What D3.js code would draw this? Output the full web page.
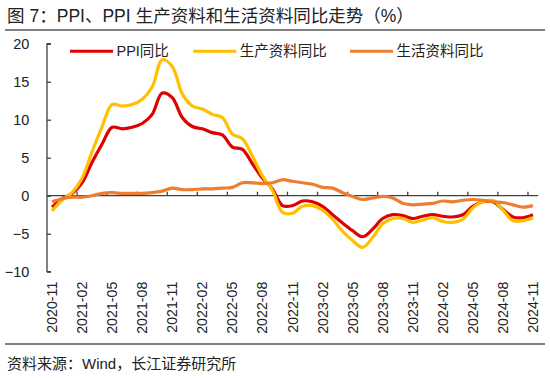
<!DOCTYPE html>
<html><head><meta charset="utf-8">
<script src="https://cdn.jsdelivr.net/npm/d3@7"></script>
<style>
html,body{margin:0;padding:0;background:#fff;}
svg{display:block;font-family:"Liberation Sans",Arial,"Noto Sans CJK SC",sans-serif;}
</style></head>
<body><svg id="c" width="550" height="378"></svg>
<script>
const months = ["2020-11","2020-12","2021-01","2021-02","2021-03","2021-04","2021-05","2021-06","2021-07","2021-08","2021-09","2021-10","2021-11","2021-12",
"2022-01","2022-02","2022-03","2022-04","2022-05","2022-06","2022-07","2022-08","2022-09","2022-10","2022-11","2022-12",
"2023-01","2023-02","2023-03","2023-04","2023-05","2023-06","2023-07","2023-08","2023-09","2023-10","2023-11","2023-12",
"2024-01","2024-02","2024-03","2024-04","2024-05","2024-06","2024-07","2024-08","2024-09","2024-10","2024-11"];
const ppi = [-1.5,-0.4,0.3,1.7,4.4,6.8,9.0,8.8,9.0,9.5,10.7,13.5,12.9,10.3,
9.1,8.8,8.3,8.0,6.4,6.1,4.2,2.3,0.9,-1.3,-1.3,-0.7,
-0.8,-1.4,-2.5,-3.6,-4.6,-5.4,-4.4,-3.0,-2.5,-2.6,-3.0,-2.7,
-2.5,-2.7,-2.8,-2.5,-1.4,-0.8,-0.8,-1.8,-2.8,-2.9,-2.5];
const producer = [-2.0,-0.6,0.4,2.3,5.8,9.1,12.0,11.8,12.0,12.7,14.3,17.9,17.0,13.4,
11.8,11.4,10.7,10.3,8.1,7.5,5.2,2.6,0.7,-2.2,-2.3,-1.4,
-1.3,-1.9,-3.1,-4.7,-5.9,-6.8,-5.5,-3.7,-3.0,-3.0,-3.5,-3.2,
-2.9,-3.4,-3.5,-3.1,-1.6,-0.8,-0.6,-1.9,-3.3,-3.3,-2.9];
const consumer = [-0.8,-0.4,-0.2,-0.2,0.0,0.3,0.4,0.3,0.3,0.3,0.4,0.6,1.0,0.8,
0.8,0.9,0.9,1.0,1.1,1.7,1.7,1.6,1.7,2.1,1.9,1.7,
1.5,1.1,1.0,0.4,-0.1,-0.5,-0.3,-0.1,-0.3,-1.0,-1.2,-1.1,
-1.0,-0.7,-0.8,-0.6,-0.5,-0.6,-0.8,-0.9,-1.2,-1.5,-1.3];
const yTicks = [-10,-5,0,5,10,15,20];
const seriesNames = ["PPI同比","生产资料同比","生活资料同比"];
const seriesColors = ["#E00000","#FFC000","#ED7D31"];
const titleParts = ["图", "7：PPI、PPI", "生产资料和生活资料同比走势（%）"];
const source = "资料来源：Wind，长江证券研究所";

const svg = d3.select("#c");
const L = 47, R = 538, T = 43.7, B = 271.7;
const x = d3.scaleBand().domain(months).range([L, R]).padding(0);
const y = d3.scaleLinear().domain([-10, 20]).range([B, T]);
const axisColor = "#404040";

// title & rules
const tt = svg.append("text").attr("x", 7).attr("y", 21.5).attr("font-size", 17.5).attr("fill", "#222");
titleParts.forEach((p, i) => tt.append("tspan").attr("dx", i === 0 ? 0 : 5).text(p));
svg.append("line").attr("x1", 5).attr("x2", 545).attr("y1", 30).attr("y2", 30).attr("stroke", "#7f7f7f").attr("stroke-width", 2);
svg.append("line").attr("x1", 5).attr("x2", 545).attr("y1", 344).attr("y2", 344).attr("stroke", "#7f7f7f").attr("stroke-width", 2);
svg.append("text").attr("x", 7).attr("y", 369).attr("font-size", 15).attr("fill", "#222").text(source);

// y axis
const yAxis = d3.axisRight(y).tickValues(yTicks).tickSize(4).tickFormat(d3.format("d"));
const gy = svg.append("g").attr("transform", `translate(${L},0)`).call(yAxis);
gy.select(".domain").attr("stroke", axisColor).attr("stroke-width", 1.3).attr("d", `M4,${T}H0V${B}H4`);
gy.selectAll(".tick line").attr("stroke", axisColor).attr("stroke-width", 1.3);
gy.selectAll(".tick text").attr("text-anchor", "end").attr("font-size", 14.5).attr("fill", "#222").attr("x", -17.7);

// x axis at y=0
const tickMonths = months.filter((m, i) => i % 3 === 0);
const gx = svg.append("g").attr("transform", `translate(0,${y(0)})`);
gx.append("line").attr("x1", L).attr("x2", R).attr("y1", 0).attr("y2", 0).attr("stroke", axisColor).attr("stroke-width", 1.3);
gx.selectAll("line.t").data(tickMonths.slice(1)).enter().append("line").attr("class", "t")
  .attr("x1", d => x(d)).attr("x2", d => x(d)).attr("y1", 0).attr("y2", -4)
  .attr("stroke", axisColor).attr("stroke-width", 1.3);
// x labels at bottom
svg.selectAll("text.xl").data(tickMonths).enter().append("text").attr("class", "xl")
  .attr("transform", d => `translate(${x(d) + x.bandwidth() / 2 + 5},${B + 10}) rotate(-90)`)
  .attr("text-anchor", "end").attr("font-size", 14.2).attr("fill", "#222").text(d => d);

// lines
const data = [ppi, producer, consumer];
const line = d3.line().x((d, i) => x(months[i]) + x.bandwidth() / 2).y(d => y(d)).curve(d3.curveCatmullRom.alpha(0.5));
data.forEach((s, k) => {
  svg.append("path").datum(s).attr("d", line).attr("fill", "none")
    .attr("stroke", seriesColors[k]).attr("stroke-width", 3.2).attr("stroke-linejoin", "round");
});

// legend
const legX = [70, 193.3, 350];
seriesNames.forEach((n, k) => {
  svg.append("line").attr("x1", legX[k]).attr("x2", legX[k] + 43).attr("y1", 51.3).attr("y2", 51.3)
    .attr("stroke", seriesColors[k]).attr("stroke-width", 3);
  svg.append("text").attr("x", legX[k] + 46.5).attr("y", 56.3).attr("font-size", 14.5).attr("fill", "#222").text(n);
});
</script></body></html>
